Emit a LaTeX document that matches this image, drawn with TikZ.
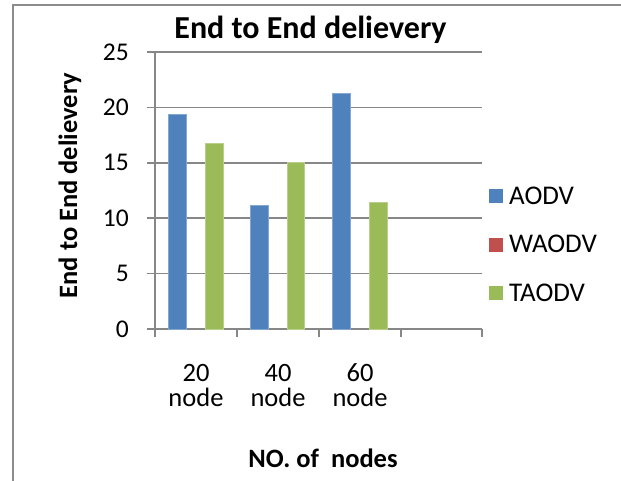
\documentclass[tikz,border=0pt]{standalone}
\usepackage{fontspec}
\setmainfont{Carlito}
\definecolor{aodv}{HTML}{4F81BD}
\definecolor{waodv}{HTML}{C0504D}
\definecolor{taodv}{HTML}{9BBB59}
\definecolor{gridc}{HTML}{878787}
\definecolor{framec}{HTML}{8C8C8C}
\tikzset{
  gridline/.style={draw=gridc,line width=1.6pt},
  framel/.style={draw=framec,line width=2pt},
  ticklab/.style={inner sep=0pt,anchor=base east,font=\fontsize{25.5}{29}\selectfont},
  catlab/.style={inner sep=0pt,anchor=base,font=\fontsize{26.5}{30}\selectfont},
  legtext/.style={inner sep=0pt,anchor=base west,font=\fontsize{27}{31}\selectfont},
  axtitle/.style={inner sep=0pt,anchor=base,font=\fontsize{26.5}{30}\selectfont\bfseries},
  bluebar/.style={fill=aodv,draw=aodv!70!white,line width=0.6pt},
  greenbar/.style={fill=taodv,draw=taodv!70!white,line width=0.6pt},
  legsq/.style={minimum size=14pt,inner sep=0pt,draw=none},
}
\begin{document}
\begin{tikzpicture}[x=1pt,y=-1pt]
\useasboundingbox (0,0) rectangle (621,481);
\fill[white] (0,0) rectangle (621,481);
% frame
\coordinate (fbl) at (12.7,481);
\coordinate (ftl) at (12.7,4.7);
\coordinate (ftr) at (621,4.7);
\draw[framel] (fbl) -- (ftl) -- (ftr);
% gridlines & ticks
\foreach \v/\yy in {0/329,5/273.6,10/218.2,15/162.8,20/107.4,25/52}{
  \coordinate (gl\v) at (147,\yy);
  \coordinate (gr\v) at (482,\yy);
  \draw[gridline] (gl\v) -- (gr\v);
  \node[ticklab] (t\v) at (129,\yy+8.2) {\v};
}
% y axis
\coordinate (yaxb) at (155,329);
\coordinate (yaxt) at (155,52);
\draw[gridline] (yaxb) -- (yaxt);
% category ticks
\foreach \i/\xx in {0/155,1/237,2/319,3/401,4/482}{
  \coordinate (ct\i) at (\xx,329);
  \coordinate (cb\i) at (\xx,337);
  \draw[gridline] (ct\i) -- (cb\i);
}
% bars (value * 11.08 px)
\def\u{11.08}
\draw[bluebar] (168.3,329) rectangle (186.7,329-19.38*\u);
\draw[greenbar] (205,329) rectangle (223.3,329-16.8*\u);
\draw[bluebar] (250.3,329) rectangle (268.3,329-11.19*\u);
\draw[greenbar] (287,329) rectangle (304.7,329-15.0*\u);
\draw[bluebar] (332.3,329) rectangle (350,329-21.27*\u);
\draw[greenbar] (369,329) rectangle (387,329-11.4*\u);
% category labels
\node[catlab] (c20) at (196,381.5) {20};
\node[catlab] (n20) at (196,406.5) {node};
\node[catlab] (c40) at (278,381.5) {40};
\node[catlab] (n40) at (278,406.5) {node};
\node[catlab] (c60) at (360,381.5) {60};
\node[catlab] (n60) at (360,406.5) {node};
% legend
\node[legsq,fill=aodv] (sq1) at (495.5,196.5) {};
\node[legsq,fill=waodv] (sq2) at (495.5,244.5) {};
\node[legsq,fill=taodv] (sq3) at (495.5,292.5) {};
\node[legtext] (l1) at (509,204.5) {AODV};
\node[legtext] (l2) at (509,252.8) {WAODV};
\node[legtext] (l3) at (509,301) {TAODV};
% titles
\node[inner sep=0pt,anchor=base,font=\fontsize{32}{36}\selectfont\bfseries] (title) at (310.5,38.5) {End to End delievery};
\node[axtitle] (xt) at (323,467.5) {NO. of\ \ nodes};
\node[axtitle,rotate=90] (yt) at (77,185.5) {End to End delievery};
\end{tikzpicture}
\end{document}
